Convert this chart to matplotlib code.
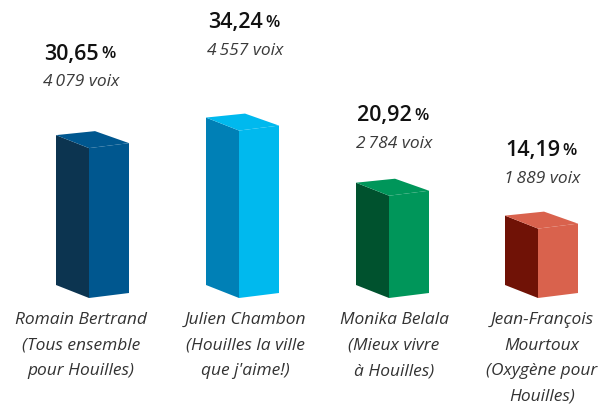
import matplotlib
matplotlib.use("Agg")
import matplotlib.pyplot as plt
from matplotlib.patches import Polygon

# data
candidates = ["Romain Bertrand\n(Tous ensemble\npour Houilles)",
              "Julien Chambon\n(Houilles la ville\nque j'aime!)",
              "Monika Belala\n(Mieux vivre\nà Houilles)",
              "Jean-François\nMourtoux\n(Oxygène pour\nHouilles)"]
pct_labels = ["30,65", "34,24", "20,92", "14,19"]
pct = [30.65, 34.24, 20.92, 14.19]
votes = ["4\u2009079 voix", "4\u2009557 voix", "2\u2009784 voix", "1\u2009889 voix"]

front_colors = ["#00578f", "#00b9ee", "#00965a", "#d9624d"]
side_colors = ["#0c3450", "#0080b6", "#00522e", "#701206"]

# layout (pixels)
W, H = 608, 412
PX = 4.89          # pixels per percent
BASE = 298         # baseline of the front edge, px from top
bar_x = [89, 239, 389, 538]
label_x = [81, 245, 394, 542]
label_gap = [94, 108, 80, 78]   # px between bar top and percent label
FRONT_W, SIDE_W = 40, 33
SIDE_DY, FRONT_DY = 13, 5


def yd(ypx):
    return (BASE - ypx) / PX


fig = plt.figure(figsize=(W / 100, H / 100), dpi=100)
ax = fig.add_axes([0, 0, 1, 1])
ax.set_xlim(0, W)
ax.set_ylim(yd(H), yd(0))
ax.axis("off")

sd = SIDE_DY / PX
fd = FRONT_DY / PX
for i, v in enumerate(pct):
    x0 = bar_x[i]
    # left face
    ax.add_patch(Polygon([(x0 - SIDE_W, sd), (x0, 0), (x0, v), (x0 - SIDE_W, v + sd)],
                         closed=True, fc=side_colors[i], ec="none"))
    # front face
    ax.add_patch(Polygon([(x0, 0), (x0 + FRONT_W, fd), (x0 + FRONT_W, v + fd), (x0, v)],
                         closed=True, fc=front_colors[i], ec="none"))
    # top face
    ax.add_patch(Polygon([(x0 - SIDE_W, v + sd), (x0, v), (x0 + FRONT_W, v + fd),
                          (x0 + 6, v + 17 / PX)],
                         closed=True, fc=front_colors[i], ec="none"))

    ytxt = v + label_gap[i] / PX
    ax.text(label_x[i] + 18, ytxt, pct_labels[i], ha="right", va="center",
            fontsize=15.5, fontweight="semibold", family="Open Sans", color="#111111")
    ax.text(label_x[i] + 20, ytxt, "%", ha="left", va="center",
            fontsize=12, fontweight="semibold", family="Open Sans", color="#111111")
    ax.text(label_x[i], ytxt - 28 / PX, votes[i], ha="center", va="center",
            fontsize=12.5, style="italic", family=["Open Sans", "DejaVu Sans"],
            color="#3a3a3a")
    ax.text(label_x[i], yd(312), candidates[i], ha="center", va="top",
            fontsize=12.5, style="italic", family="Open Sans",
            color="#333333", linespacing=1.8)

fig.savefig("out.png", dpi=100)
